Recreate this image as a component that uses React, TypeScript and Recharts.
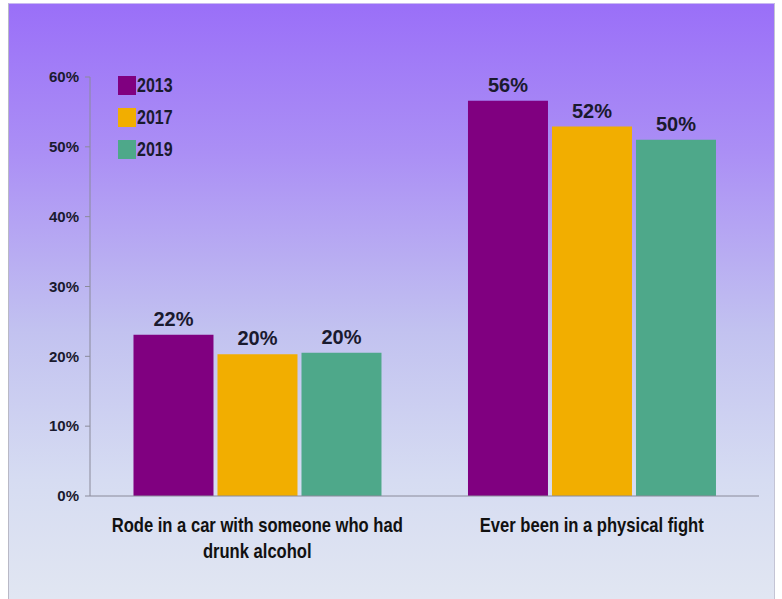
import React from "react";
import { BarChart, Bar, XAxis, YAxis, LabelList } from "recharts";

const categories = ["Rode in a car with someone who had drunk alcohol", "Ever been in a physical fight"];
const categoryLines = [["Rode in a car with someone who had", "drunk alcohol"], ["Ever been in a physical fight"]];
const years = ["2013", "2017", "2019"];
const values2013 = [23.1, 56.6];
const values2017 = [20.3, 52.9];
const values2019 = [20.5, 51.0];
const labels2013 = ["22%", "56%"];
const labels2017 = ["20%", "52%"];
const labels2019 = ["20%", "50%"];
const yTicks = [0, 10, 20, 30, 40, 50, 60];

const colors = ["#800080", "#f2ae00", "#4ea88a"];
const FONT = "'Liberation Sans', Arial, sans-serif";

const data = categories.map((c, i) => ({
  name: c,
  v2013: values2013[i],
  v2017: values2017[i],
  v2019: values2019[i],
  l2013: labels2013[i],
  l2017: labels2017[i],
  l2019: labels2019[i],
}));

const CatTick = (props: any) => {
  const { x, y, payload } = props;
  const lines = categoryLines[payload.index] || [payload.value];
  return (
    <g transform={`translate(${x},${y}) scale(0.83,1)`}>
      {lines.map((ln: string, i: number) => (
        <text key={i} x={0} y={28 + i * 26} textAnchor="middle" fill="#111" fontFamily={FONT} fontWeight="bold" fontSize={20}>
          {ln}
        </text>
      ))}
    </g>
  );
};

const EmptyTick = () => <g />;

const Legend2 = () => (
  <div style={{ position: "absolute", left: 118, top: 69, fontFamily: FONT, fontWeight: "bold", fontSize: 20, color: "#1a1a2e" }}>
    {years.map((y, i) => (
      <div key={y} style={{ display: "flex", alignItems: "center", height: 32 }}>
        <div style={{ width: 18, height: 19, background: colors[i], marginRight: 1 }} />
        <span style={{ display: "inline-block", transform: "scaleX(0.8)", transformOrigin: "left center" }}>{y}</span>
      </div>
    ))}
  </div>
);

export default function App() {
  return (
    <div style={{ position: "absolute", left: 0, top: 0, width: 782, height: 599, background: "#fff" }}>
      <div
        style={{
          position: "absolute",
          left: 8,
          top: 3,
          width: 767,
          height: 596,
          boxSizing: "border-box",
          borderLeft: "1px solid #b9b9c6",
          borderTop: "1px solid #c9b9f2",
          borderRight: "1px solid #c4c4d4",
          background: "linear-gradient(180deg, #9a6ff8 0%, #ab8ff5 25%, #c2c2f0 55%, #d6dcf2 80%, #e1e6f2 100%)",
        }}
      />
      <div style={{ position: "absolute", left: 0, top: 0 }}>
        <BarChart
          width={782}
          height={599}
          data={data}
          margin={{ top: 77, right: 23, bottom: 0, left: 0 }}
          barCategoryGap="13%"
          barGap={4}
        >
          <XAxis
            xAxisId="grid"
            type="number"
            domain={[0, 2]}
            ticks={[0, 1, 2]}
            axisLine={false}
            tickLine={{ stroke: "#8a8a9a" }}
            tickSize={6}
            tick={<EmptyTick />}
            height={0}
            orientation="bottom"
          />
          <XAxis
            dataKey="name"
            xAxisId="cat"
            axisLine={{ stroke: "#8a8a9a" }}
            tickLine={false}
            tick={<CatTick />}
            interval={0}
            height={103}
          />
          <YAxis
            width={90}
            domain={[0, 60]}
            ticks={yTicks}
            tickFormatter={(v: number) => `${v}%`}
            axisLine={{ stroke: "#8a8a9a" }}
            tickLine={{ stroke: "#8a8a9a" }}
            tickSize={5}
            tick={{ fill: "#1a1a2e", fontFamily: FONT, fontWeight: "bold", fontSize: 15 }}
            tickMargin={6}
          />
          <Bar dataKey="v2013" xAxisId="cat" fill={colors[0]} isAnimationActive={false}>
            <LabelList dataKey="l2013" position="top" offset={9} fill="#1a1a2e" fontFamily={FONT} fontWeight="bold" fontSize={20} />
          </Bar>
          <Bar dataKey="v2017" xAxisId="cat" fill={colors[1]} isAnimationActive={false}>
            <LabelList dataKey="l2017" position="top" offset={9} fill="#1a1a2e" fontFamily={FONT} fontWeight="bold" fontSize={20} />
          </Bar>
          <Bar dataKey="v2019" xAxisId="cat" fill={colors[2]} isAnimationActive={false}>
            <LabelList dataKey="l2019" position="top" offset={9} fill="#1a1a2e" fontFamily={FONT} fontWeight="bold" fontSize={20} />
          </Bar>
        </BarChart>
      </div>
      <Legend2 />
    </div>
  );
}
